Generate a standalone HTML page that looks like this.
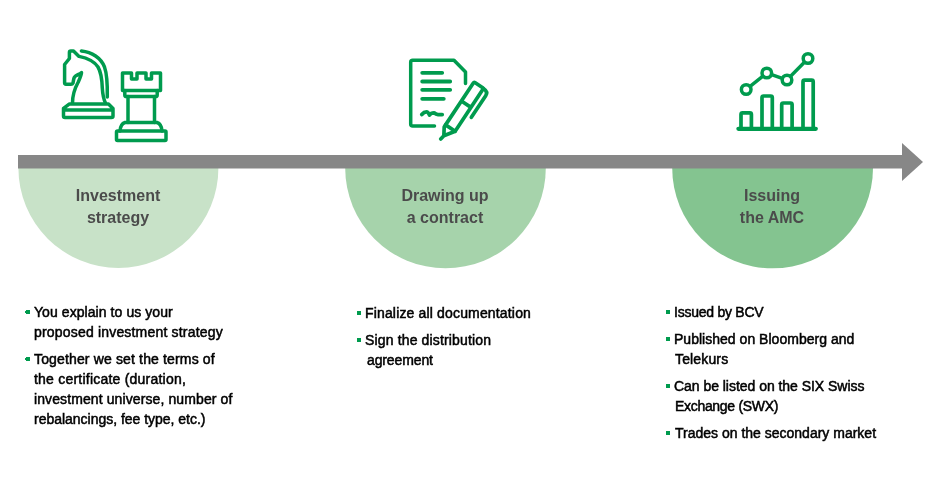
<!DOCTYPE html>
<html><head><meta charset="utf-8">
<style>
html,body{margin:0;padding:0;background:#fff;width:940px;height:500px;overflow:hidden;position:relative}
.t,.h{will-change:transform}
svg{position:absolute;left:0;top:0}
.t{position:absolute;font-family:"Liberation Sans",sans-serif;font-size:14px;line-height:20px;color:#000;white-space:nowrap;-webkit-text-stroke:0.5px #000}
.h{position:absolute;font-family:"Liberation Sans",sans-serif;font-weight:bold;font-size:16px;line-height:22px;color:#4b4b4b;white-space:nowrap;text-align:center;width:200px}
.b{position:absolute;width:4px;height:4px;background:#009b4e}
</style></head><body>
<svg width="940" height="500" viewBox="0 0 940 500">
  <path d="M18.4,168 A100,100 0 0 0 218.4,168 Z" fill="#c8e2c8"/>
  <path d="M345.2,168 A100,100 0 0 0 545.8,168 Z" fill="#a6d3ab"/>
  <path d="M672.2,168 A100,100 0 0 0 873,168 Z" fill="#84c490"/>
  <rect x="18" y="155" width="885" height="13.5" fill="#878787"/>
  <polygon points="902,143 923,162 902,181" fill="#878787"/>
</svg>
<svg width="940" height="500" viewBox="0 0 940 500" fill="none" stroke="#009b4e" stroke-width="3.5" stroke-linejoin="round" stroke-linecap="round">
  <path d="M72.5,103 C72.5,94 75,88 78,82.5 C80,78 81.5,75 81.5,72.5 C79,74.5 76,75.2 74.5,77 C73.5,78.5 73.5,81 73,83 Q72.5,84.2 71,84.2 H66 Q64.6,84.2 64.6,82.8 V64.5 L69.4,58.5 V52.5 Q69.4,51 70.9,51 H73.5 L79,56.4 C87,58 94,61 98,67 C101,72 102,80 102.3,88 C102.7,95 103.5,99 105.5,103"/>
  <path d="M81.4,51 C92,52 101,58 104.5,67 C107,74 107.5,85 107.3,97"/>
  <path d="M69.5,103.9 H108.5 L113,108.4 V115.9 Q113,117.4 111.5,117.4 H65 Q63.5,117.4 63.5,115.9 V108.4 Z M63.5,109.9 H113"/>
  <path d="M122.5,90.5 V73 H131.5 V79 H137 V73 H146 V79 H151.5 V73 H160.5 V90.5 Z"/>
  <path d="M124.8,90.5 V95 Q124.8,96.6 126.5,96.6 H155.5 Q157.2,96.6 157.2,95 V90.5"/>
  <path d="M128,96.6 V122.5 M154.5,96.6 V122.5"/>
  <path d="M125,122.5 H157 Q161.5,124 162,131 M125,122.5 Q120.5,124 120,131"/>
  <rect x="116.5" y="131" width="49.5" height="9.5" rx="1"/>
  <path stroke-width="3.5" d="M434.5,126 H412.7 Q410.7,126 410.7,124 V62.2 Q410.7,60.2 412.7,60.2 H454 L465.5,72 V83.5"/>
  <path stroke-width="3.8" d="M422.2,72.8 H442.2 M422.2,81.5 H450.2 M422.2,89.8 H450.2 M422.2,98.8 H443.8"/>
  <path stroke-width="3.8" d="M421.8,114.5 Q424,111.8 426.5,111.8 Q428,111.8 429.5,115 Q431,112.8 434,112.8 Q436,114.5 438,114.6 H442.2"/>
  <g transform="translate(478.8,85.1) rotate(33.5)" stroke-width="3.7">
    <path d="M-5.75,51.5 V1.5 Q-5.75,0 -4.25,0 H4.25 Q5.75,0 5.75,1.5 V51.5 Z M-5.75,22.9 H5.75"/>
    <path d="M-5.75,51.5 V54 L-1.2,61.5 L5.75,51.5 M-1.2,61.5 L-2,66"/>
    <path d="M5.75,0.3 Q11.6,0.3 11.6,5 V31"/>
  </g>
  <path stroke-width="4.2" d="M738.4,128.8 H815.8"/>
  <path stroke-width="3.7" d="M741,128 V114.5 Q741,112.9 742.6,112.9 H749.8 Q751.4,112.9 751.4,114.5 V128 M762,128 V97.6 Q762,96 763.6,96 H770.7 Q772.3,96 772.3,97.6 V128 M781.7,128 V104.6 Q781.7,103 783.3,103 H790.5 Q792.1,103 792.1,104.6 V128 M803,128 V81.8 Q803,80.2 804.6,80.2 H811.6 Q813.2,80.2 813.2,81.8 V128"/>
  <circle cx="746.2" cy="89.5" r="4.8" stroke-width="3.5"/>
  <circle cx="766.8" cy="73" r="4.8" stroke-width="3.5"/>
  <circle cx="787" cy="80" r="4.8" stroke-width="3.5"/>
  <circle cx="808" cy="58.5" r="4.8" stroke-width="3.5"/>
  <path stroke-width="3.4" d="M750.1,86.4 L762.9,76.1 M771.6,74.6 L782.2,78.4 M790.6,76.3 L804.4,62.2"/>
</svg>
<div class="h" style="left:18px;top:185px">Investment<br>strategy</div>
<div class="h" style="left:345px;top:185px">Drawing up<br>a contract</div>
<div class="h" style="left:672px;top:185px">Issuing<br>the AMC</div>
<div class="b" style="left:26px;top:310px"></div><div class="b" style="left:25px;top:311px;width:1px;height:2px"></div>
<div class="t" style="left:34.0px;top:302.0px;letter-spacing:0.071px">You explain to us your</div>
<div class="t" style="left:34.0px;top:322.0px;letter-spacing:0.185px">proposed investment strategy</div>
<div class="b" style="left:26px;top:357px"></div><div class="b" style="left:25px;top:358px;width:1px;height:2px"></div>
<div class="t" style="left:34.0px;top:349.0px;letter-spacing:0.148px">Together we set the terms of</div>
<div class="t" style="left:34.0px;top:369.0px;letter-spacing:0.220px">the certificate (duration,</div>
<div class="t" style="left:34.0px;top:389.0px;letter-spacing:0.103px">investment universe, number of</div>
<div class="t" style="left:34.0px;top:409.0px;letter-spacing:-0.018px">rebalancings, fee type, etc.)</div>
<div class="b" style="left:357px;top:311px"></div>
<div class="t" style="left:365.0px;top:303.0px;letter-spacing:0.160px">Finalize all documentation</div>
<div class="b" style="left:357px;top:338px"></div>
<div class="t" style="left:365.0px;top:330.0px;letter-spacing:0.150px">Sign the distribution</div>
<div class="t" style="left:367.0px;top:350.0px;letter-spacing:-0.125px">agreement</div>
<div class="b" style="left:666px;top:310px"></div>
<div class="t" style="left:674.0px;top:302.0px;letter-spacing:-0.250px">Issued by BCV</div>
<div class="b" style="left:666px;top:337px"></div>
<div class="t" style="left:674.0px;top:329.0px;letter-spacing:0.020px">Published on Bloomberg and</div>
<div class="t" style="left:675.0px;top:349.0px;letter-spacing:0.143px">Telekurs</div>
<div class="b" style="left:666px;top:384px"></div>
<div class="t" style="left:674.0px;top:376.0px;letter-spacing:-0.034px">Can be listed on the SIX Swiss</div>
<div class="t" style="left:675.0px;top:396.0px;letter-spacing:-0.308px">Exchange (SWX)</div>
<div class="b" style="left:666px;top:431px"></div>
<div class="t" style="left:675.0px;top:423.0px;letter-spacing:0.000px">Trades on the secondary market</div>
</body></html>
